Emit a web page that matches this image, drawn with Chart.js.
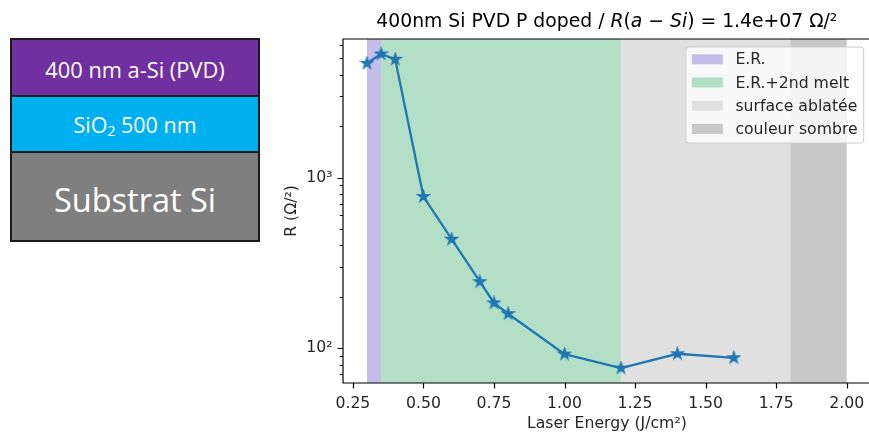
<!DOCTYPE html>
<html>
<head>
<meta charset="utf-8">
<script src="https://cdn.jsdelivr.net/npm/chart.js@4.4.1/dist/chart.umd.min.js"></script>
<style>
  html, body { margin: 0; padding: 0; background: #fff; overflow: hidden; width: 869px; height: 433px; }
  #chart { position: absolute; left: 0; top: 0; }
  .stack { position: absolute; left: 10px; top: 38px; width: 250px; border: 2px solid #1a1a1a; box-sizing: border-box; z-index: 2; font-family: "Open Sans", sans-serif; color: #fff; }
  .layer { display: flex; align-items: center; justify-content: center; box-sizing: border-box; white-space: nowrap; }
  .layer + .layer { border-top: 2px solid #1a1a1a; }
  .l1 { background: #7030a0; height: 55px; font-size: 21.8px; padding-top: 3px; }
  .l2 { background: #00b0f0; height: 56px; font-size: 21.5px; }
  .l3 { background: #7f7f7f; height: 89px; font-size: 32.5px; padding-top: 6px; }
  sub { font-size: 0.65em; vertical-align: -0.25em; line-height: 0; }
</style>
</head>
<body>
<div class="stack">
  <div class="layer l1"><span>400 nm a-Si (PVD)</span></div>
  <div class="layer l2"><span>SiO<sub>2</sub> 500 nm</span></div>
  <div class="layer l3"><span>Substrat Si</span></div>
</div>
<canvas id="chart" width="880" height="433"></canvas>
<script>
// measured sheet resistance vs laser energy
const energy = [0.3, 0.35, 0.4, 0.5, 0.6, 0.7, 0.75, 0.8, 1.0, 1.2, 1.4, 1.6];
const resistance = [4684, 5309, 4943, 774, 435, 245, 184, 159, 92.2, 76.3, 92.6, 87.7];

// shaded regimes
const bandLabels = ["E.R.", "E.R.+2nd melt", "surface ablatée", "couleur sombre"];
const bandStart = [0.3, 0.35, 1.2, 1.8];
const bandEnd = [0.35, 1.2, 1.8, 2.0];
const bandColors = ["#c4bdea", "#b2dfc6", "#e0e0e0", "#c8c8c8"];

// axes
const xTicks = [0.25, 0.5, 0.75, 1.0, 1.25, 1.5, 1.75, 2.0];
const yTicks = [70, 80, 90, 100, 200, 300, 400, 500, 600, 700, 800, 900, 1000, 2000, 3000, 4000, 5000, 6000];
const yMajor = [100, 1000];
const xMin = 0.215, xMax = 2.085;
const yMin = 62.4, yMax = 6500;

const FONT = "'DejaVu Sans', sans-serif";
const FS = 15.7;
const BLUE = "#1f77b4";

// filled star marker like matplotlib '*'
function starMarker(r) {
    const c = document.createElement("canvas");
    const s = Math.ceil(r * 2 + 2);
    c.width = s; c.height = s;
    const g = c.getContext("2d");
    g.beginPath();
    for (let i = 0; i < 10; i++) {
        let rad = i % 2 === 0 ? r : r * 0.382;
        let a = -Math.PI / 2 + i * Math.PI / 5;
        let px = s / 2 + rad * Math.cos(a), py = s / 2 + rad * Math.sin(a);
        if (i === 0) g.moveTo(px, py); else g.lineTo(px, py);
    }
    g.closePath();
    g.fillStyle = BLUE;
    g.fill();
    g.strokeStyle = BLUE;
    g.lineWidth = 1.2;
    g.stroke();
    return c;
}

const bandsPlugin = {
    id: "bands",
    beforeDatasetsDraw(chart) {
        const ctx = chart.ctx, a = chart.chartArea, x = chart.scales.x;
        ctx.save();
        bandLabels.forEach((_, i) => {
            let x0 = x.getPixelForValue(bandStart[i]);
            let x1 = x.getPixelForValue(bandEnd[i]);
            ctx.fillStyle = bandColors[i];
            ctx.fillRect(x0, a.top, x1 - x0, a.bottom - a.top);
        });
        ctx.restore();
    }
};

const decorPlugin = {
    id: "decor",
    afterDraw(chart) {
        const ctx = chart.ctx, a = chart.chartArea;
        const xs = chart.scales.x, ys = chart.scales.y;
        ctx.save();

        // legend
        ctx.font = FS + "px " + FONT;
        let maxW = Math.max(...bandLabels.map(t => ctx.measureText(t).width));
        let w = 6 + 31 + 12.5 + maxW + 6;
        let h = 96;
        let lx = a.right - 7.5 - w, ly = a.top + 7.5;
        ctx.beginPath();
        ctx.roundRect(lx + 0.5, ly + 0.5, w, h, 3);
        ctx.fillStyle = "rgba(255,255,255,0.8)";
        ctx.fill();
        ctx.strokeStyle = "#cccccc";
        ctx.lineWidth = 1;
        ctx.stroke();
        ctx.textBaseline = "middle";
        ctx.textAlign = "left";
        bandLabels.forEach((t, i) => {
            let cy = ly + 12.8 + i * 23.2;
            ctx.fillStyle = bandColors[i];
            ctx.fillRect(lx + 6.5, cy - 5, 31, 10);
            ctx.fillStyle = "#262626";
            ctx.fillText(t, lx + 6.5 + 31 + 12.5, cy + 1);
        });

        // frame (left, top, bottom)
        ctx.strokeStyle = "#000";
        ctx.lineWidth = 1.2;
        ctx.beginPath();
        ctx.moveTo(a.right + 10, a.top);
        ctx.lineTo(a.left, a.top);
        ctx.lineTo(a.left, a.bottom);
        ctx.lineTo(a.right + 10, a.bottom);
        ctx.stroke();

        // ticks
        ctx.beginPath();
        xTicks.forEach(v => {
            let px = Math.round(xs.getPixelForValue(v)) + 0.5;
            ctx.moveTo(px, a.bottom);
            ctx.lineTo(px, a.bottom + 5.5);
        });
        yTicks.forEach(v => {
            let py = Math.round(ys.getPixelForValue(v)) + 0.5;
            let len = yMajor.includes(v) ? 5.5 : 3.1;
            ctx.moveTo(a.left, py);
            ctx.lineTo(a.left - len, py);
        });
        ctx.stroke();

        // title with italic math part
        const parts = [["400nm Si PVD P doped / ", false], ["R", true], ["(", false], ["a", true],
                       [" \u2212 ", false], ["Si", true], [") = 1.4e+07 \u03a9/\u00b2", false]];
        const fs = "18.8px ";
        let total = 0;
        parts.forEach(p => {
            ctx.font = (p[1] ? "italic " : "") + fs + FONT;
            total += ctx.measureText(p[0]).width;
        });
        let tx = (a.left + a.right) / 2 - total / 2;
        ctx.fillStyle = "#000";
        ctx.textBaseline = "alphabetic";
        ctx.textAlign = "left";
        parts.forEach(p => {
            ctx.font = (p[1] ? "italic " : "") + fs + FONT;
            ctx.fillText(p[0], tx, 27);
            tx += ctx.measureText(p[0]).width;
        });

        // axis labels
        ctx.font = FS + "px " + FONT;
        ctx.fillStyle = "#262626";
        ctx.textAlign = "center";
        ctx.textBaseline = "middle";
        ctx.fillText("Laser Energy (J/cm\u00b2)", (a.left + a.right) / 2, 424);
        ctx.translate(291.5, (a.top + a.bottom) / 2);
        ctx.rotate(-Math.PI / 2);
        ctx.fillText("R (\u03a9/\u00b2)", 0, 0);
        ctx.restore();
    }
};

new Chart(document.getElementById("chart"), {
    type: "line",
    data: {
        datasets: [{
            data: energy.map((e, i) => ({ x: e, y: resistance[i] })),
            borderColor: BLUE,
            borderWidth: 2.3,
            pointStyle: starMarker(6.2),
            pointRadius: 7,
            tension: 0
        }]
    },
    options: {
        responsive: false,
        animation: false,
        layout: { padding: { left: 0, top: 39, right: 6, bottom: 0 } },
        plugins: {
            legend: { display: false },
            tooltip: { enabled: false }
        },
        scales: {
            x: {
                type: "linear",
                min: xMin,
                max: xMax,
                afterBuildTicks: s => { s.ticks = xTicks.map(v => ({ value: v })); },
                afterFit: s => { s.height = 50; },
                grid: { drawOnChartArea: false, drawTicks: false },
                border: { display: false },
                ticks: {
                    autoSkip: false,
                    maxRotation: 0,
                    padding: 12,
                    color: "#262626",
                    font: { family: FONT, size: FS },
                    callback: v => Number(v).toFixed(2)
                }
            },
            y: {
                type: "logarithmic",
                min: yMin,
                max: yMax,
                afterBuildTicks: s => { s.ticks = yTicks.map(v => ({ value: v })); },
                afterFit: s => { s.width = 343; },
                grid: { drawOnChartArea: false, drawTicks: false },
                border: { display: false },
                ticks: {
                    autoSkip: false,
                    padding: 10.5,
                    color: "#262626",
                    font: { family: FONT, size: FS },
                    callback: v => v === 100 ? "10\u00b2" : v === 1000 ? "10\u00b3" : ""
                }
            }
        }
    },
    plugins: [bandsPlugin, decorPlugin]
});
</script>
</body>
</html>
